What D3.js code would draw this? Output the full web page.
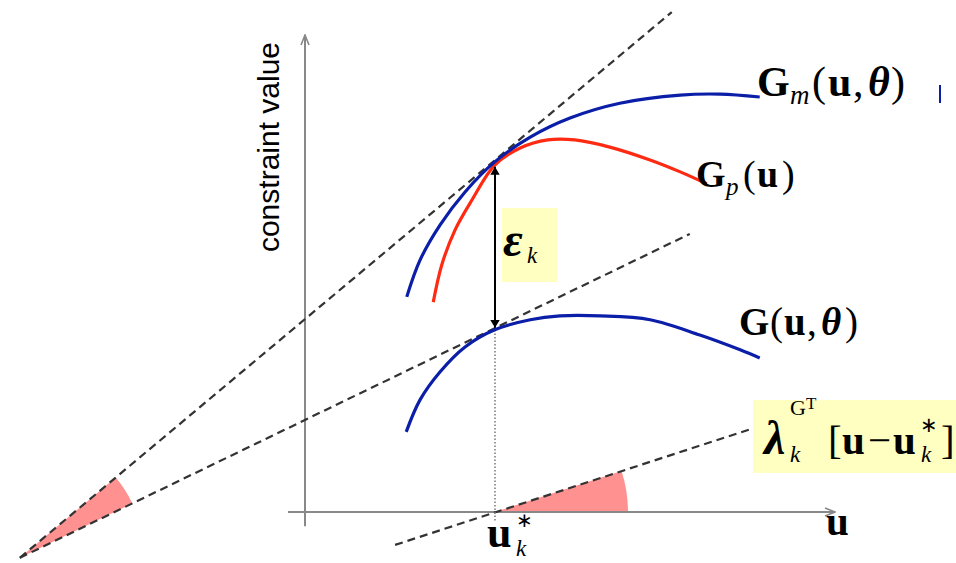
<!DOCTYPE html>
<html><head><meta charset="utf-8">
<script src="https://cdn.jsdelivr.net/npm/d3@7"></script>
<style>body{margin:0;background:#fff}svg{display:block}</style>
</head><body>
<svg id="chart" width="956" height="563"></svg>
<script>
// Model constraint curve G_m(u, θ)
const gmU = [1.92, 2.17, 2.55, 3.02, 3.58, 4.25, 5.00, 5.94, 7.08, 7.83, 8.58];
const gmV = [4.51, 5.28, 6.02, 6.71, 7.34, 7.86, 8.26, 8.57, 8.74, 8.76, 8.70];
// Plant constraint curve G_p(u)
const gpU = [2.42, 2.58, 2.83, 3.15, 3.58, 4.06, 4.58, 5.09, 5.75, 6.51, 7.08, 7.58];
const gpV = [4.40, 5.18, 5.91, 6.54, 7.27, 7.63, 7.80, 7.80, 7.65, 7.38, 7.13, 6.88];
// Nominal constraint curve G(u, θ)
const gU = [1.91, 2.17, 2.55, 3.02, 3.58, 4.25, 4.81, 5.57, 6.51, 7.45, 8.21, 8.58];
const gV = [1.68, 2.35, 2.94, 3.46, 3.82, 4.03, 4.11, 4.11, 4.03, 3.71, 3.40, 3.23];
// Operating point u*_k and the two constraint values at it
const uStar = 3.585;
const gmAtStar = 7.30;
const gAtStar = 3.82;
// Dashed linearisations: [start, end] as [u, value]
const tangentGm = [[-5.38, -0.96], [6.92, 10.48]];
const tangentG = [[-5.38, -0.96], [7.26, 5.83]];
const gradientLine = [[1.70, -0.69], [8.58, 1.80]];

const svg = d3.select("#chart");
const x = d3.scaleLinear().domain([0, 10]).range([305, 835]);
const y = d3.scaleLinear().domain([0, 10]).range([512, 35]);

const BLUE = "#0b1ea8", RED = "#ff2a12", PINK = "#ff9191", YELLOW = "#ffffc2";
const AXIS = "#888", DASH = "#333";

const defs = svg.append("defs");
defs.append("marker").attr("id", "axisHead").attr("viewBox", "0 0 12 12")
  .attr("refX", 11).attr("refY", 6).attr("markerWidth", 12).attr("markerHeight", 12)
  .attr("markerUnits", "userSpaceOnUse").attr("orient", "auto")
  .append("path").attr("d", "M1,2 L11,6 L1,10").attr("fill", "none")
  .attr("stroke", AXIS).attr("stroke-width", 1.6);
defs.append("marker").attr("id", "blackHead").attr("viewBox", "0 0 10 14")
  .attr("refX", 10).attr("refY", 7).attr("markerWidth", 12).attr("markerHeight", 11)
  .attr("markerUnits", "userSpaceOnUse").attr("orient", "auto-start-reverse")
  .append("path").attr("d", "M0,1 L10,7 L0,13 Z").attr("fill", "#000");

// angle (d3.arc convention) of a direction given in screen coordinates
const ang = (p0, p1) => Math.atan2(x(p1[0]) - x(p0[0]), -(y(p1[1]) - y(p0[1])));

// shaded angle wedges
const apex = tangentGm[0];
svg.append("path")
  .attr("transform", `translate(${x(apex[0])},${y(apex[1])})`)
  .attr("d", d3.arc()({innerRadius: 0, outerRadius: 125,
      startAngle: ang(apex, tangentGm[1]), endAngle: ang(apex, tangentG[1])}))
  .attr("fill", PINK);
svg.append("path")
  .attr("transform", `translate(${x(uStar)},${y(0)})`)
  .attr("d", d3.arc()({innerRadius: 0, outerRadius: 133,
      startAngle: ang([uStar, 0], gradientLine[1]), endAngle: Math.PI / 2}))
  .attr("fill", PINK);

// axes
svg.append("line").attr("x1", x(-0.32)).attr("y1", y(0)).attr("x2", x(10)).attr("y2", y(0))
  .attr("stroke", AXIS).attr("stroke-width", 2).attr("marker-end", "url(#axisHead)");
svg.append("line").attr("x1", x(0)).attr("y1", y(-0.3)).attr("x2", x(0)).attr("y2", y(10))
  .attr("stroke", AXIS).attr("stroke-width", 2).attr("marker-end", "url(#axisHead)");

// dashed lines
const straight = d3.line().x(d => x(d[0])).y(d => y(d[1]));
[tangentGm, tangentG, gradientLine].forEach(seg => {
  svg.append("path").attr("d", straight(seg)).attr("fill", "none")
    .attr("stroke", DASH).attr("stroke-width", 2.2).attr("stroke-dasharray", "8,5");
});

// dotted drop line at u*_k
svg.append("line").attr("x1", x(uStar)).attr("x2", x(uStar))
  .attr("y1", y(-0.18)).attr("y2", y(gAtStar))
  .attr("stroke", "#777").attr("stroke-width", 1.5).attr("stroke-dasharray", "1.5,2");

// curves
const curve = d3.line().x(d => x(d[0])).y(d => y(d[1])).curve(d3.curveCatmullRom.alpha(0.5));
const series = [[gU, gV, BLUE], [gpU, gpV, RED], [gmU, gmV, BLUE]];
series.forEach(([us, vs, c]) => {
  svg.append("path").attr("d", curve(us.map((u, i) => [u, vs[i]])))
    .attr("fill", "none").attr("stroke", c).attr("stroke-width", 3.2).attr("stroke-linecap", "butt");
});

// error arrow between model and nominal constraint
svg.append("line").attr("x1", x(uStar)).attr("x2", x(uStar))
  .attr("y1", y(gmAtStar) + 3).attr("y2", y(gAtStar) - 2)
  .attr("stroke", "#000").attr("stroke-width", 2)
  .attr("marker-start", "url(#blackHead)").attr("marker-end", "url(#blackHead)");

// y axis title
svg.append("text").attr("transform", "translate(279,147) rotate(-90)")
  .attr("text-anchor", "middle").attr("font-family", "Liberation Sans, Arial, sans-serif")
  .attr("font-size", 30).attr("fill", "#000").text("constraint value");

// math labels: each piece is placed at its own x and baseline offset
const SERIF = "Liberation Serif, Times New Roman, serif";
function mathLabel(base, parts, size) {
  const t = svg.append("text").attr("x", parts[0].x).attr("y", base)
    .attr("font-family", SERIF).attr("font-size", size).attr("fill", "#000");
  parts.forEach(p => {
    t.append("tspan").text(p.t)
      .attr("x", p.x).attr("y", base + (p.dy || 0))
      .attr("font-weight", p.b ? "bold" : "normal")
      .attr("font-style", p.i ? "italic" : "normal")
      .attr("font-size", p.s || size);
  });
  return t;
}

mathLabel(96, [
  {t: "G", x: 757, b: 1}, {t: "m", x: 790, i: 1, s: 27, dy: 8},
  {t: "(", x: 812}, {t: "u", x: 828, b: 1}, {t: ",", x: 853}, {t: "θ", x: 868, b: 1, i: 1}, {t: ")", x: 891}
], 42);
svg.append("line").attr("x1", 940).attr("x2", 940).attr("y1", 85).attr("y2", 103)
  .attr("stroke", BLUE).attr("stroke-width", 2);

mathLabel(187, [
  {t: "G", x: 696, b: 1}, {t: "p", x: 726, i: 1, s: 25, dy: 8},
  {t: "(", x: 743}, {t: "u", x: 757, b: 1}, {t: ")", x: 782}
], 38);

mathLabel(335, [
  {t: "G", x: 739, b: 1}, {t: "(", x: 770}, {t: "u", x: 784, b: 1}, {t: ",", x: 807},
  {t: "θ", x: 821, b: 1, i: 1}, {t: ")", x: 845}
], 39);

// ε_k box
svg.append("rect").attr("x", 502).attr("y", 208).attr("width", 55).attr("height", 74).attr("fill", YELLOW);
mathLabel(256, [
  {t: "ε", x: 503, b: 1, i: 1}, {t: "k", x: 527, i: 1, s: 23, dy: 7}
], 48);

// λ box, running off the right edge
svg.append("rect").attr("x", 753).attr("y", 400).attr("width", 210).attr("height", 73).attr("fill", YELLOW);
mathLabel(454, [
  {t: "λ", x: 764, b: 1, i: 1, s: 48}, {t: "k", x: 790, i: 1, s: 23, dy: 8},
  {t: "G", x: 790, s: 22, dy: -39}, {t: "T", x: 806, s: 17, dy: -45},
  {t: "[", x: 828}, {t: "u", x: 842, b: 1}, {t: "−", x: 868}, {t: "u", x: 893, b: 1},
  {t: "∗", x: 920, s: 21, dy: -22}, {t: "k", x: 921, i: 1, s: 23, dy: 8}, {t: "]", x: 941}
], 41);

// axis labels
mathLabel(535, [{t: "u", x: 826, b: 1}], 41);
mathLabel(547, [
  {t: "u", x: 487, b: 1}, {t: "∗", x: 516, s: 20, dy: -20}, {t: "k", x: 516, i: 1, s: 23, dy: 9}
], 44);
</script>
</body></html>
